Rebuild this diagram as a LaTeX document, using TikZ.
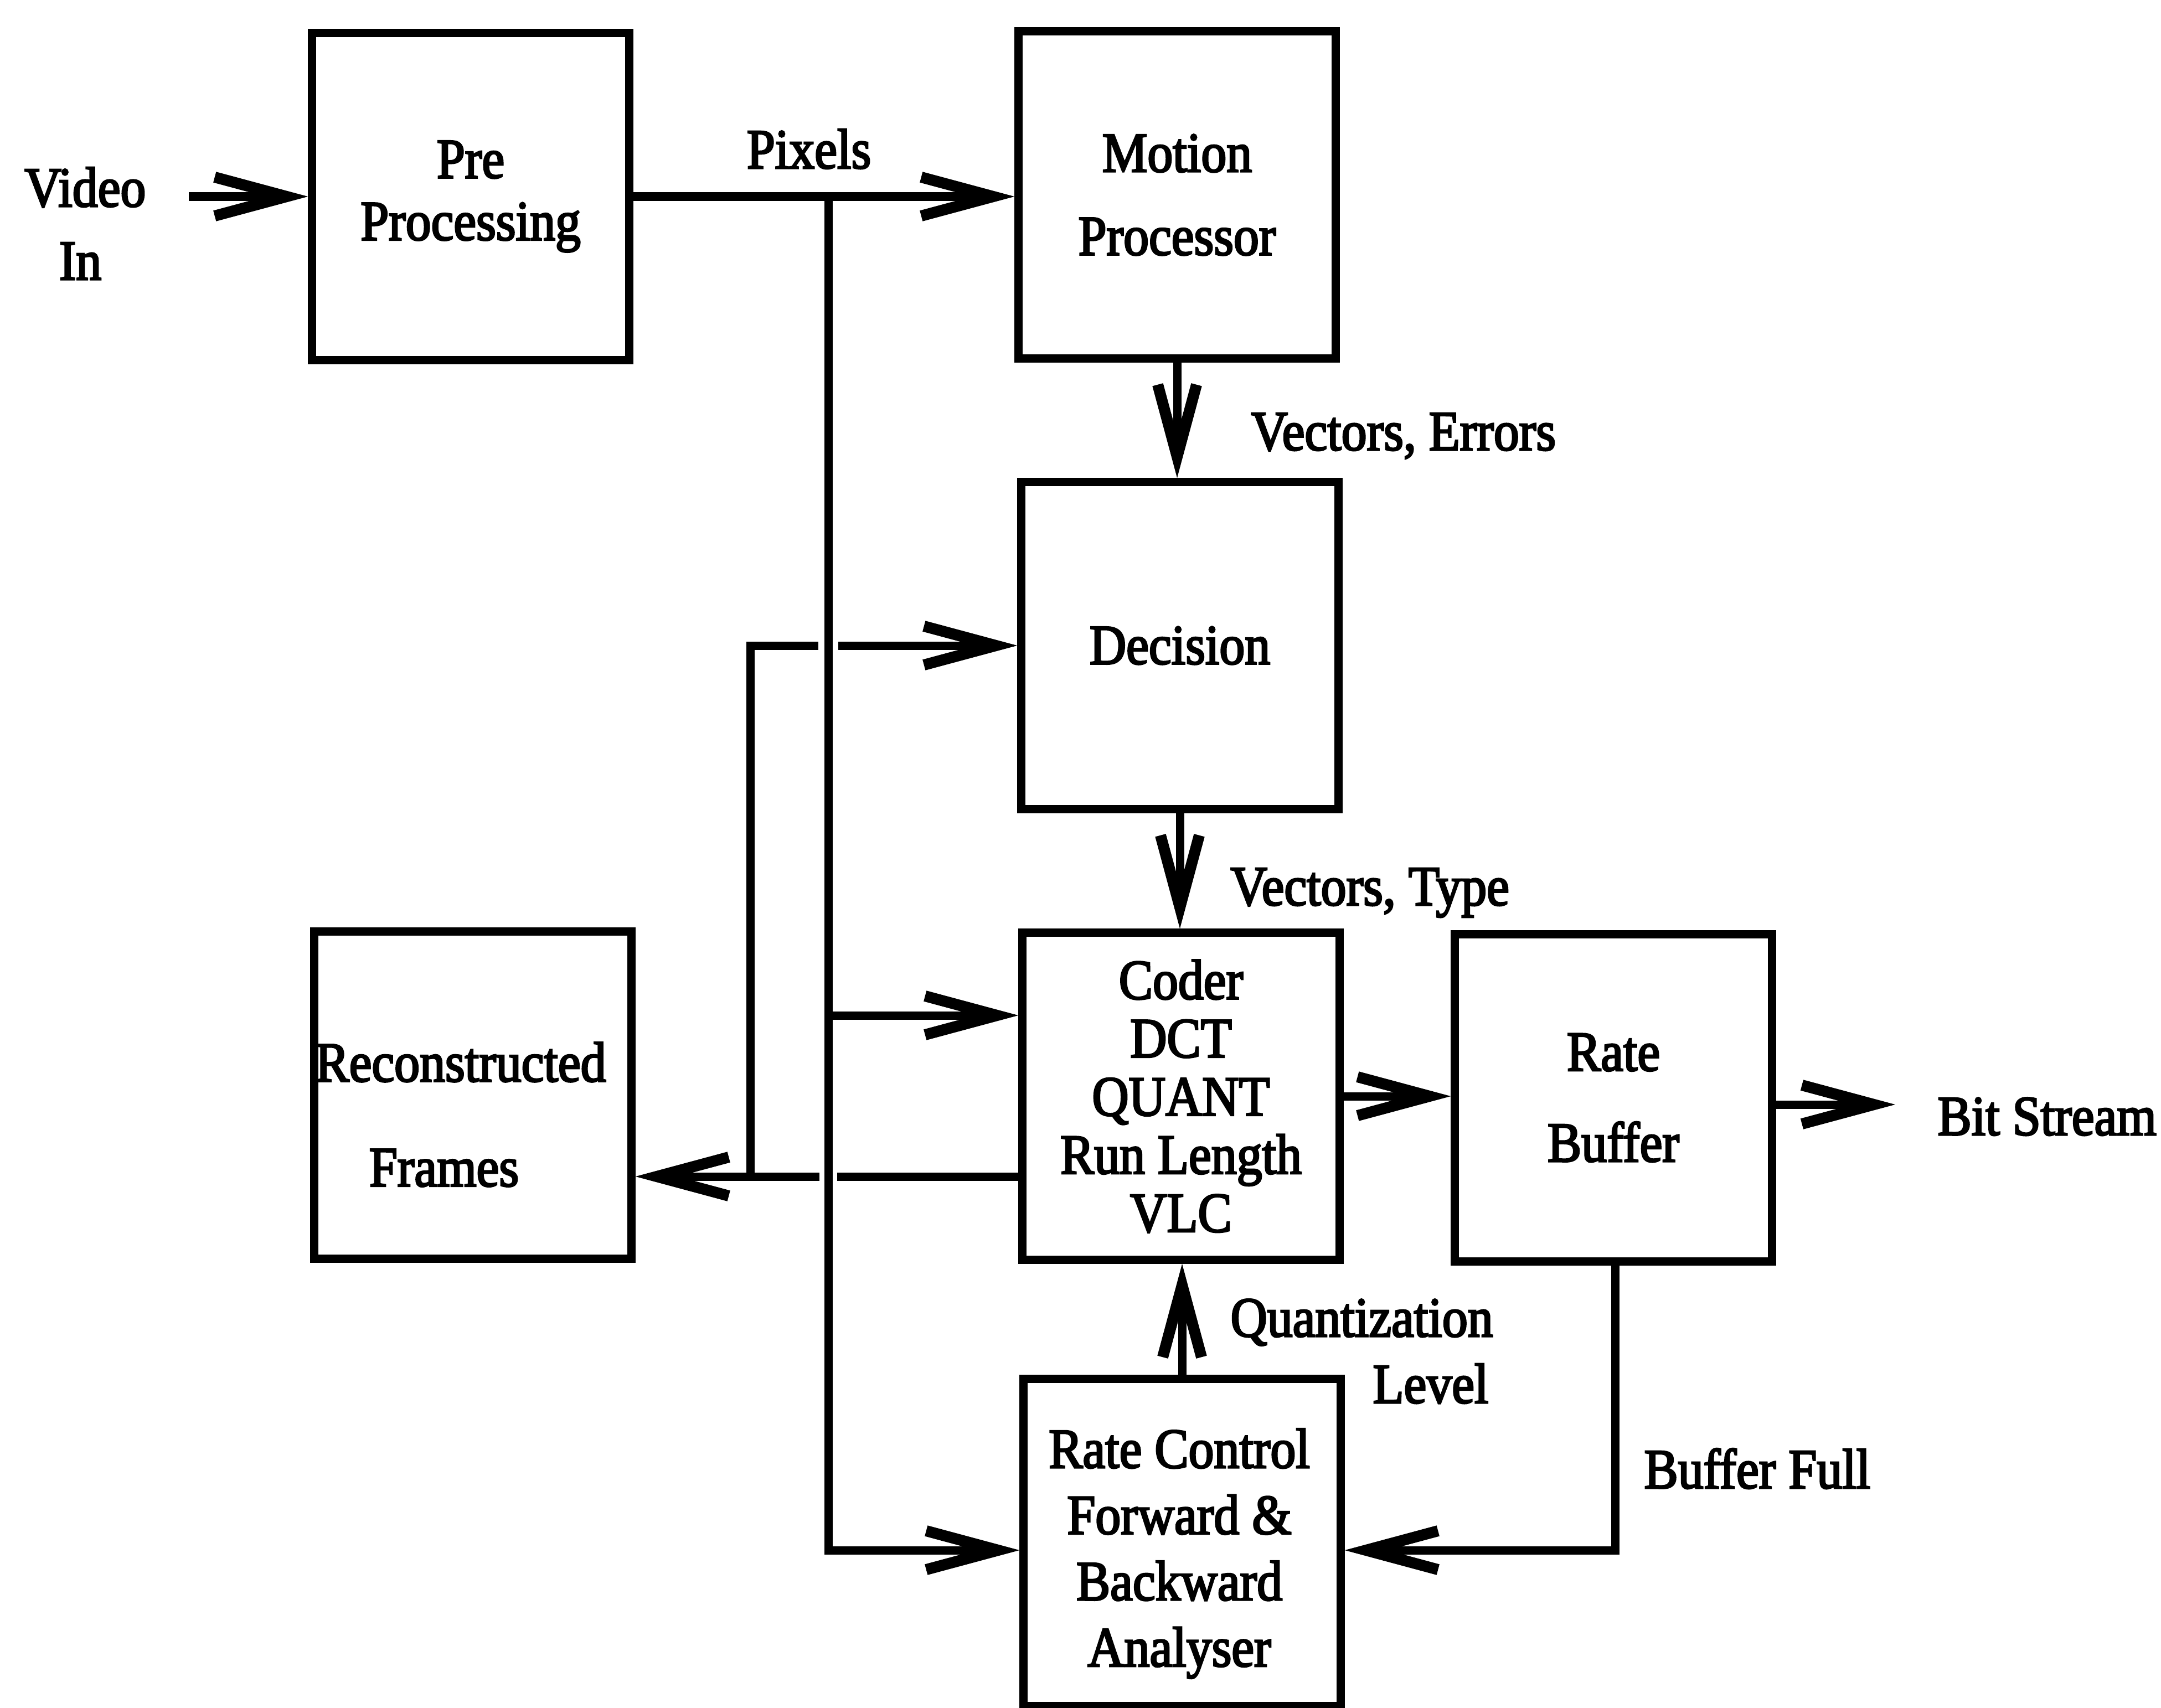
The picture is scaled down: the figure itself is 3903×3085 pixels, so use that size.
\documentclass[tikz,border=0pt]{standalone}
\usepackage{fontspec}
\setmainfont{Liberation Serif}[FakeStretch=0.9,FakeBold=3]
\usetikzlibrary{arrows.meta}
\newcommand\fsz[1]{\fontsize{29}{#1}\selectfont}
\begin{document}
\begin{tikzpicture}[x=0.01cm,y=-0.01cm,line width=0.15cm,
  box/.style={draw,line width=0.15cm,minimum width=5.72cm,minimum height=5.9cm,inner sep=0pt,align=center,font=\fsz{34}},
  lbl/.style={inner sep=0pt,font=\fsz{34}},
  arr/.style={-{Straight Barb[length=13mm,width=7mm,line width=0.2cm]}}]
\useasboundingbox (0,0) rectangle (3903,3085);
% boxes
\node[box,font=\fsz{31.9}] (pre) at (850,355) {Pre\\Processing};
\node[box,font=\fsz{42.7}] (mot) at (2126,352) {Motion\\Processor};
\node[box] (dec) at (2131,1166) {Decision};
\node[box,font=\fsz{29.9}] (cod) at (2133,1980) {Coder\\DCT\\QUANT\\Run Length\\VLC};
\node[box,font=\fsz{46.7}] (rb) at (2914,1983) {Rate\\Buffer};
\node[box] (rec) at (854,1978) {};
\node[lbl,align=center,font=\fsz{53.8}] (rect) at (832,2013) {Reconstructed\\\hspace*{-0.6cm}Frames};
\node[box] (rc) at (2135,2786) {};
\node[lbl,align=center,font=\fsz{34}] (rct) at (2130,2806) {Rate Control\\Forward \&\\Backward\\Analyser};
% input
\node[lbl,anchor=base] (vid) at (154,373) {Video};
\node[lbl,anchor=base] (vin) at (145,505) {In};
\coordinate (vs) at (341,355);
\draw[arr] (vs) -- (pre.west);
% pixels bus
\node[lbl,anchor=base] (pix) at (1461,304) {Pixels};
\coordinate (vt) at (1496,355);
\coordinate (vb) at (1496,2800);
\coordinate (vc) at (1496,1834);
\draw[arr] (pre.east) -- (pre.east -| mot.west);
\draw[arr] (vt) -- (vb) -- (vb -| rc.west);
\draw[arr] (vc) -- (vc -| cod.west);
% feedback
\coordinate (fb) at (1355,2125);
\coordinate (ft) at (1355,1166);
\coordinate (g1) at (1478,1166);
\coordinate (g2) at (1514,1166);
\coordinate (g3) at (1480,2125);
\coordinate (g4) at (1512,2125);
\draw (fb) -- (ft) -- (g1);
\draw[arr] (g2) -- (dec.west);
\draw (fb -| cod.west) -- (g4);
\draw[arr] (g3) -- (fb -| rec.east);
% vertical chain
\draw[arr] (mot.south) -- (mot.south |- dec.north);
\node[lbl,anchor=base west] (ve) at (2252,813) {Vectors, Errors};
\draw[arr] (dec.south) -- (dec.south |- cod.north);
\node[lbl,anchor=base west] (vty) at (2215,1635) {Vectors, Type};
\draw[arr] (cod.east) -- (cod.east -| rb.west);
\coordinate (bs) at (3423,1995);
\draw[arr] (bs -| rb.east) -- (bs);
\node[lbl,anchor=base west] (bst) at (3492,2050) {Bit Stream};
\draw[arr] (rc.north) -- (rc.north |- cod.south);
\node[lbl,anchor=base west] (qz) at (2215,2414) {Quantization};
\node[lbl,anchor=base west] (lv) at (2472,2534) {Level};
\coordinate (bf) at (2917,2800);
\draw[arr] (bf |- rb.south) -- (bf) -- (bf -| rc.east);
\node[lbl,anchor=base west] (bft) at (2962,2688) {Buffer Full};
\end{tikzpicture}
\end{document}
